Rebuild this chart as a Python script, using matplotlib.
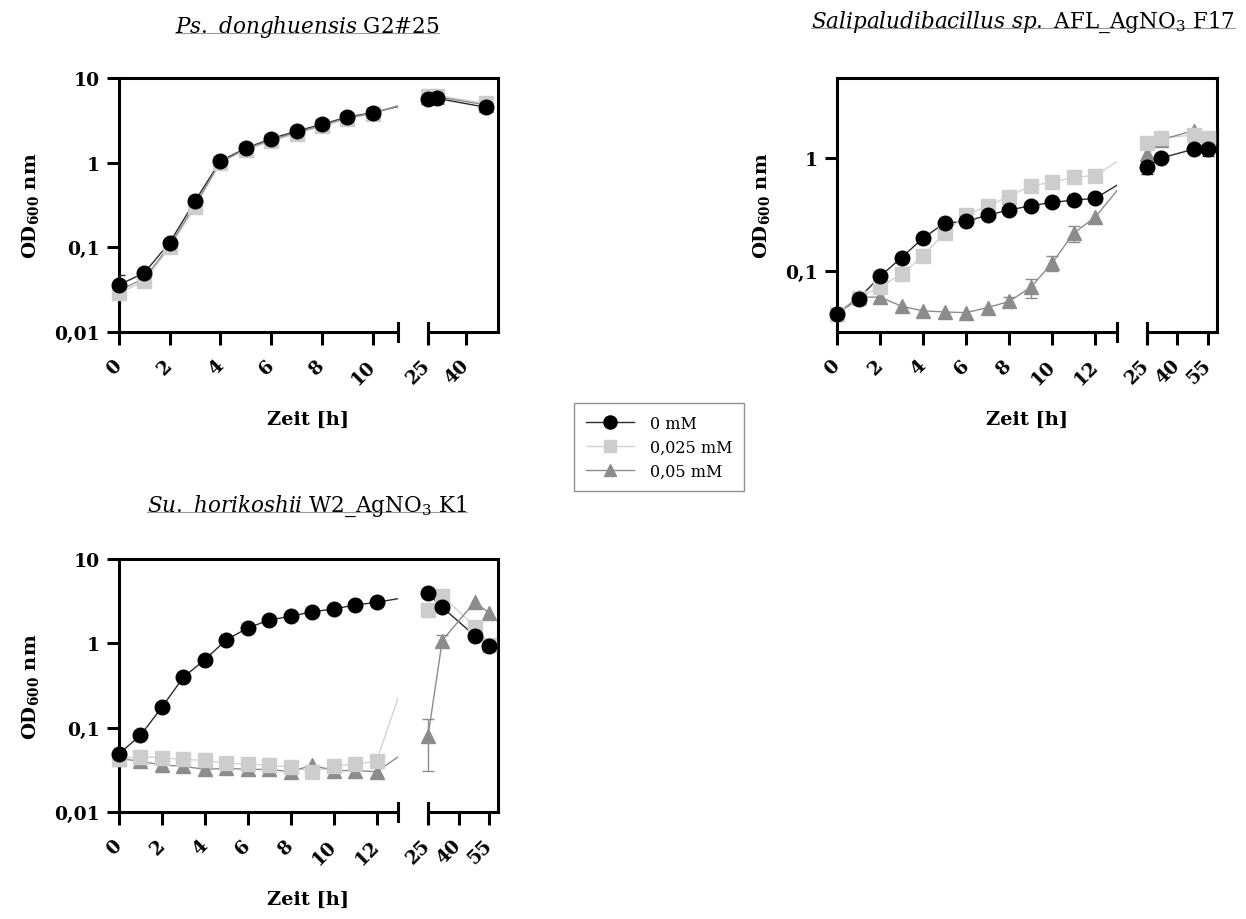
import numpy as np
import matplotlib
matplotlib.use('Agg')
import matplotlib.pyplot as plt
from matplotlib.lines import Line2D
from matplotlib.ticker import NullLocator

plt.rcParams['font.family'] = ['DejaVu Serif']
plt.rcParams['mathtext.fontset'] = 'dejavuserif'
plt.rcParams['mathtext.default'] = 'regular'

labels = ['0 mM', '0,025 mM', '0,05 mM']

# Ps. donghuensis G2#25
t_a = [0, 1, 2, 3, 4, 5, 6, 7, 8, 9, 10, 25, 28.5, 48]
a_0 = [0.036, 0.050, 0.114, 0.353, 1.05, 1.48, 1.92, 2.36, 2.83, 3.46, 3.89, 5.6, 5.75, 4.5]
a_025 = [0.029, 0.040, 0.100, 0.30, 1.00, 1.42, 1.80, 2.20, 2.70, 3.30, 3.80, 6.1, 6.2, 5.0]
a_05 = [0.031, 0.043, 0.105, 0.32, 1.02, 1.45, 1.86, 2.28, 2.76, 3.38, 3.85, 5.9, 6.0, 4.8]
a_0_err = [0.011, 0, 0, 0, 0, 0, 0, 0, 0, 0, 0, 0, 0, 0]
a_025_err = [0.004, 0.003, 0.01, 0.02, 0, 0, 0, 0, 0, 0, 0, 0, 0, 0]
a_05_err = [0] * 14

# Salipaludibacillus sp. AFL_AgNO3 F17
t_b = [0, 1, 2, 3, 4, 5, 6, 7, 8, 9, 10, 11, 12, 25, 32, 48, 55]
b_0 = [0.042, 0.057, 0.090, 0.132, 0.196, 0.266, 0.275, 0.313, 0.347, 0.379, 0.405, 0.425, 0.44,
       0.83, 1.0, 1.2, 1.2]
b_025 = [0.042, 0.058, 0.073, 0.094, 0.137, 0.217, 0.315, 0.378, 0.457, 0.569, 0.61, 0.675, 0.70,
         1.36, 1.5, 1.6, 1.49]
b_05 = [0.042, 0.059, 0.059, 0.049, 0.0446, 0.0436, 0.043, 0.0477, 0.054, 0.072, 0.118, 0.217, 0.30,
        1.08, 1.45, 1.75, 1.5]
b_0_err = [0, 0, 0, 0, 0, 0, 0, 0, 0, 0, 0, 0, 0, 0.1, 0, 0, 0.15]
b_025_err = [0, 0, 0, 0, 0, 0, 0, 0, 0, 0, 0, 0, 0, 0, 0, 0, 0.1]
b_05_err = [0, 0, 0, 0, 0, 0, 0, 0, 0.005, 0.014, 0.018, 0.036, 0, 0, 0, 0, 0]

# Su. horikoshii W2_AgNO3 K1
t_c = [0, 1, 2, 3, 4, 5, 6, 7, 8, 9, 10, 11, 12, 25, 32, 48, 55]
c_0 = [0.049, 0.081, 0.175, 0.396, 0.64, 1.1, 1.52, 1.89, 2.09, 2.37, 2.55, 2.85, 3.06,
       3.9, 2.67, 1.23, 0.94]
c_025 = [0.043, 0.045, 0.044, 0.042, 0.041, 0.038, 0.037, 0.036, 0.034, 0.030, 0.035, 0.037, 0.040,
         2.48, 3.67, 1.58, 0.95]
c_05 = [0.043, 0.040, 0.036, 0.035, 0.032, 0.033, 0.032, 0.032, 0.030, 0.036, 0.031, 0.031, 0.030,
        0.079, 1.08, 3.1, 2.29]
c_0_err = [0] * 17
c_025_err = [0] * 17
c_05_err = [0] * 13 + [0.048, 0.18, 0, 0]

styles = [
    dict(line='#2b2b2b', face='black', marker='o', ms=10.5, z=3.3),
    dict(line='#d2d2d2', face='#cdcdcd', marker='s', ms=9.5, z=3.2),
    dict(line='#8c8c8c', face='#8c8c8c', marker='^', ms=10, z=3.1),
]

W, H = 1246, 920
SEG_L, GAP, SEG_R = 279, 30, 70


def broken_scale(L, R):
    xs = [0, L, 25, R]
    ds = [0, SEG_L, SEG_L + GAP, SEG_L + GAP + SEG_R]

    def fwd(x):
        x = np.asarray(x, dtype=float)
        y = np.interp(x, xs, ds)
        y = np.where(x < 0, x * SEG_L / L, y)
        y = np.where(x > R, ds[2] + (x - 25) * SEG_R / (R - 25), y)
        return y

    def inv(d):
        d = np.asarray(d, dtype=float)
        x = np.interp(d, ds, xs)
        x = np.where(d < 0, d * L / SEG_L, x)
        x = np.where(d > ds[3], 25 + (d - ds[2]) * (R - 25) / SEG_R, x)
        return x
    return fwd, inv


def draw_panel(ax, t, series, errs, L, R, xticks, yticks, yticklabels, ylim):
    fwd, inv = broken_scale(L, R)
    ax.set_xscale('function', functions=(fwd, inv))
    ax.set_yscale('log')
    ax.set_xlim(0, R)
    ax.set_ylim(*ylim)
    t = np.array(t, dtype=float)
    for vals, err, st in zip(series, errs, styles):
        vals = np.array(vals)
        err = np.array(err)
        ax.plot(t, vals, color=st['line'], lw=1.0, zorder=1)
        m = err > 0
        if m.any():
            ax.errorbar(t[m], vals[m], yerr=err[m], fmt='none', ecolor=st['line'],
                        elinewidth=1.0, capsize=4, capthick=1.0, zorder=2.8)
        ax.plot(t, vals, ls='none', marker=st['marker'], ms=st['ms'], color=st['face'],
                mec=st['face'], zorder=st['z'], clip_on=False)
    # hide the connecting lines inside the axis break
    ax.axvspan(L, 25, color='white', lw=0, zorder=1.5)

    for s in ['left', 'top', 'right']:
        ax.spines[s].set_linewidth(2.2)
    ax.spines['bottom'].set_visible(False)
    tr = ax.get_xaxis_transform()
    for x0, x1 in [(0, L), (25, R)]:
        ax.plot([x0, x1], [0, 0], transform=tr, color='black', lw=2.2, clip_on=False,
                solid_capstyle='projecting', zorder=4)
    for xc in [L, 25]:
        ax.plot([xc, xc], [-0.035, 0.035], transform=tr, color='black', lw=2.2,
                clip_on=False, zorder=4)

    ax.set_xticks(xticks)
    ax.set_xticklabels([str(v) for v in xticks], rotation=45, ha='right', va='center',
                       rotation_mode='anchor', fontweight='bold', fontsize=13.5)
    ax.set_yticks(yticks)
    ax.set_yticklabels(yticklabels, fontweight='bold', fontsize=13.5)
    ax.xaxis.set_minor_locator(NullLocator())
    ax.yaxis.set_minor_locator(NullLocator())
    ax.tick_params(axis='both', direction='out', length=9, width=2.2, pad=5)
    ax.tick_params(axis='x', pad=13)
    ax.set_xlabel('Zeit [h]', fontweight='bold', fontsize=14, labelpad=16)
    ax.set_ylabel('OD$_{600}$ nm', fontweight='bold', fontsize=14, labelpad=9)


fig = plt.figure(figsize=(W / 100, H / 100), dpi=100)


def px_axes(left, top, right, bottom):
    return fig.add_axes([left / W, 1 - bottom / H, (right - left) / W, (bottom - top) / H])


ax_a = px_axes(119, 79, 498, 333)
ax_b = px_axes(837, 79, 1217, 333)
ax_c = px_axes(119, 560, 498, 813)

draw_panel(ax_a, t_a, [a_0, a_025, a_05], [a_0_err, a_025_err, a_05_err], 11, 52.6,
           [0, 2, 4, 6, 8, 10, 25, 40], [0.01, 0.1, 1, 10], ['0,01', '0,1', '1', '10'],
           (0.01, 10))
draw_panel(ax_b, t_b, [b_0, b_025, b_05], [b_0_err, b_025_err, b_05_err], 13, 59.4,
           [0, 2, 4, 6, 8, 10, 12, 25, 40, 55], [0.1, 1], ['0,1', '1'], (0.029, 5.1))
draw_panel(ax_c, t_c, [c_0, c_025, c_05], [c_0_err, c_025_err, c_05_err], 13, 59.4,
           [0, 2, 4, 6, 8, 10, 12, 25, 40, 55], [0.01, 0.1, 1, 10], ['0,01', '0,1', '1', '10'],
           (0.01, 10))

titles = [
    (307, 33, r'$\mathit{Ps.\ donghuensis}$ G2#25'),
    (1023, 28, r'$\mathit{Salipaludibacillus\ sp.}$ AFL_AgNO$_3$ F17'),
    (307, 512, r'$\mathit{Su.\ horikoshii}$ W2_AgNO$_3$ K1'),
]
title_texts = []
for x, y, s in titles:
    title_texts.append(fig.text(x / W, 1 - y / H, s, ha='center', va='baseline', fontsize=15.5))

handles = [Line2D([], [], color=st['line'], lw=1.0, marker=st['marker'], ms=st['ms'] * 0.9,
                  mfc=st['face'], mec=st['face']) for st in styles]
leg = fig.legend(handles, labels, loc='upper left', bbox_to_anchor=(566 / W, 1 - 396 / H),
                 fontsize=11.5, frameon=True, fancybox=False, edgecolor='#777777',
                 handlelength=3.0, borderpad=0.75, labelspacing=0.42, handletextpad=1.0)
leg.get_frame().set_linewidth(1.0)

# thin grey underline below each title
fig.canvas.draw()
renderer = fig.canvas.get_renderer()
for txt, (x, y, s) in zip(title_texts, titles):
    bb = txt.get_window_extent(renderer)
    yy = 1 - (y + 1) / H
    fig.add_artist(Line2D([bb.x0 / W, bb.x1 / W], [yy, yy], transform=fig.transFigure,
                          color='#9a9a9a', lw=0.8))

fig.savefig('out.png', dpi=100)
